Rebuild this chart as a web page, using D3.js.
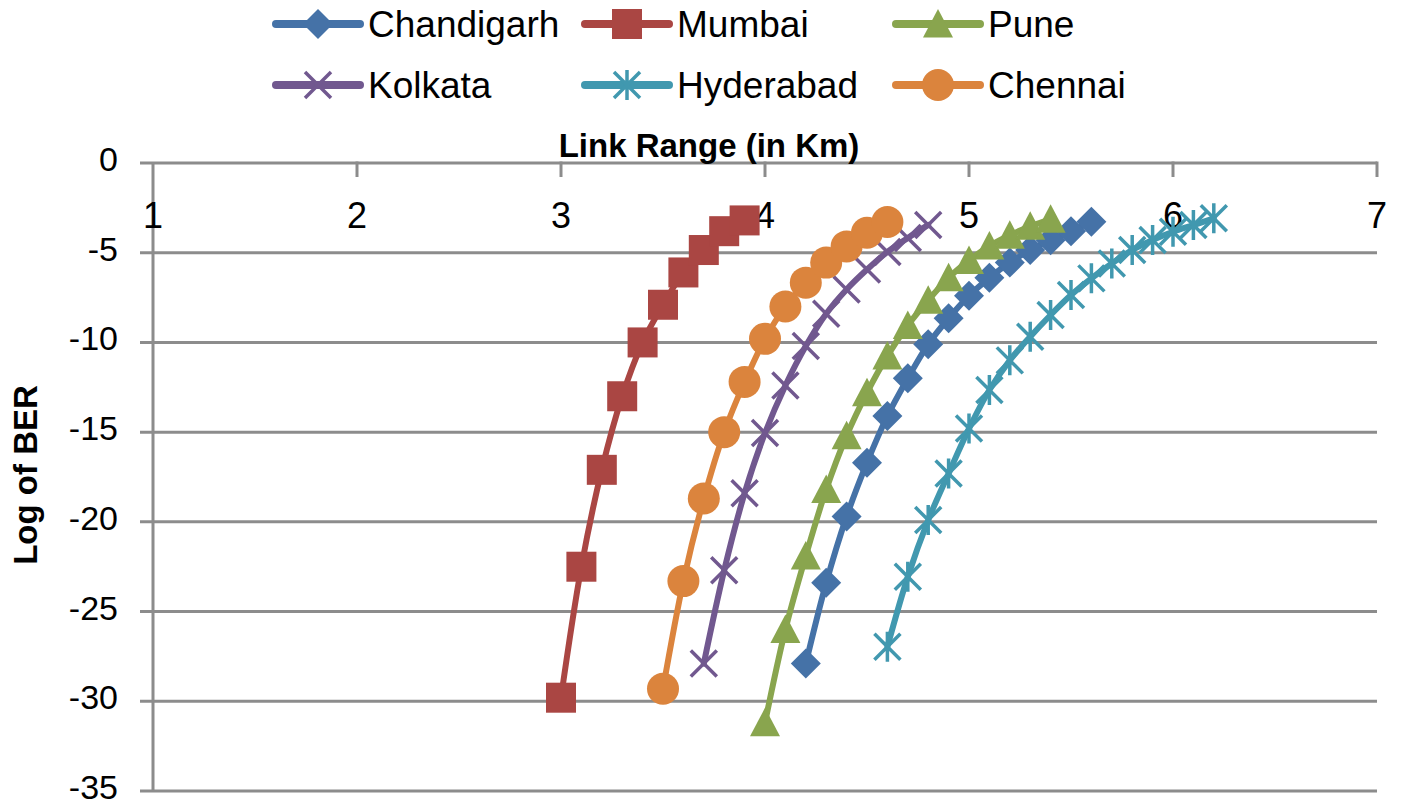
<!DOCTYPE html>
<html><head><meta charset="utf-8">
<script src="https://cdn.jsdelivr.net/npm/d3@7"></script>
<style>html,body{margin:0;padding:0;background:#fff;}svg{display:block;}</style>
</head><body>
<svg id="chart" width="1401" height="807"></svg>
<script>
const seriesNames = ["Chandigarh","Mumbai","Pune","Kolkata","Hyderabad","Chennai"];
const seriesColors = ["#4572A7","#AA4643","#89A54E","#71588F","#4198AF","#DB843D"];
const seriesMarkers = ["diamond","square","triangle","x","asterisk","circle"];

const chandigarhX = [4.2,4.3,4.4,4.5,4.6,4.7,4.8,4.9,5.0,5.1,5.2,5.3,5.4,5.5,5.6];
const chandigarhY = [-27.9,-23.4,-19.7,-16.7,-14.1,-12.0,-10.1,-8.65,-7.4,-6.4,-5.55,-4.85,-4.3,-3.8,-3.27];
const mumbaiX = [3.0,3.1,3.2,3.3,3.4,3.5,3.6,3.7,3.8,3.9];
const mumbaiY = [-29.8,-22.5,-17.1,-13.0,-10.0,-7.9,-6.1,-4.85,-3.8,-3.2];
const puneX = [4.0,4.1,4.2,4.3,4.4,4.5,4.6,4.7,4.8,4.9,5.0,5.1,5.2,5.3,5.4];
const puneY = [-31.2,-26.0,-21.9,-18.2,-15.2,-12.8,-10.75,-9.05,-7.65,-6.4,-5.43,-4.63,-4.03,-3.53,-3.14];
const kolkataX = [3.7,3.8,3.9,4.0,4.1,4.2,4.3,4.4,4.5,4.6,4.7,4.8];
const kolkataY = [-27.9,-22.7,-18.4,-15.05,-12.4,-10.2,-8.4,-7.05,-5.94,-4.96,-4.18,-3.45];
const hyderabadX = [4.6,4.7,4.8,4.9,5.0,5.1,5.2,5.3,5.4,5.5,5.6,5.7,5.8,5.9,6.0,6.1,6.2];
const hyderabadY = [-26.96,-23.06,-19.9,-17.3,-14.8,-12.65,-11.0,-9.68,-8.47,-7.36,-6.43,-5.6,-4.85,-4.29,-3.83,-3.46,-3.08];
const chennaiX = [3.5,3.6,3.7,3.8,3.9,4.0,4.1,4.2,4.3,4.4,4.5,4.6];
const chennaiY = [-29.3,-23.3,-18.7,-15.0,-12.2,-9.8,-8.0,-6.67,-5.55,-4.65,-3.89,-3.29];

const xTicks = [1,2,3,4,5,6,7];
const yTicks = [0,-5,-10,-15,-20,-25,-30,-35];
const xTitle = "Link Range (in Km)";
const yTitle = "Log of BER";

const allX = [chandigarhX,mumbaiX,puneX,kolkataX,hyderabadX,chennaiX];
const allY = [chandigarhY,mumbaiY,puneY,kolkataY,hyderabadY,chennaiY];
const series = seriesNames.map((n,i)=>({name:n,color:seriesColors[i],marker:seriesMarkers[i],
  pts: allX[i].map((x,j)=>({x:x,y:allY[i][j]}))}));

const svg = d3.select("#chart");
const FONT = "'Liberation Sans', Arial, sans-serif";
const GRID = "#8c8c8c";

const x = d3.scaleLinear().domain([1,7]).range([153,1377]);
const y = d3.scaleLinear().domain([0,-35]).range([163,791]);

const g = svg.append("g");
g.selectAll("line.grid").data(yTicks).join("line")
  .attr("x1",140).attr("x2",x(7)).attr("y1",d=>y(d)).attr("y2",d=>y(d))
  .attr("stroke",GRID).attr("stroke-width",3);
g.append("line").attr("x1",x(1)).attr("x2",x(1)).attr("y1",y(0)).attr("y2",y(-35))
  .attr("stroke",GRID).attr("stroke-width",3);
g.selectAll("line.xt").data(xTicks.slice(1)).join("line")
  .attr("x1",d=>x(d)).attr("x2",d=>x(d)).attr("y1",y(0)-1.5).attr("y2",y(0)+14)
  .attr("stroke",GRID).attr("stroke-width",3);

g.selectAll("text.xl").data(xTicks).join("text")
  .attr("x",d=>x(d)).attr("y",228).attr("text-anchor","middle")
  .attr("font-family",FONT).attr("font-size",36).attr("fill","#000").text(d=>d);
g.selectAll("text.yl").data(yTicks).join("text")
  .attr("x",118).attr("y",d=>y(d)+8).attr("text-anchor","end")
  .attr("font-family",FONT).attr("font-size",34).attr("fill","#000").text(d=>d);

svg.append("text").attr("x",709).attr("y",157).attr("text-anchor","middle")
  .attr("font-family",FONT).attr("font-weight","bold").attr("font-size",33).text(xTitle);
svg.append("text").attr("transform","translate(37,475) rotate(-90)").attr("text-anchor","middle")
  .attr("font-family",FONT).attr("font-weight","bold").attr("font-size",33).text(yTitle);

function drawMarker(sel, type, color){
  const s = 15;
  if(type==="diamond"){
    sel.append("path").attr("d",`M0,${-s}L${s},0L0,${s}L${-s},0Z`).attr("fill",color);
  } else if(type==="square"){
    sel.append("rect").attr("x",-s).attr("y",-s).attr("width",2*s).attr("height",2*s).attr("fill",color);
  } else if(type==="triangle"){
    sel.append("path").attr("d",`M0,${-s}L${s},${s*0.9}L${-s},${s*0.9}Z`).attr("fill",color);
  } else if(type==="circle"){
    sel.append("circle").attr("r",s+1).attr("fill",color);
  } else if(type==="x"){
    const h=13;
    sel.append("path").attr("d",`M${-h},${-h}L${h},${h}M${-h},${h}L${h},${-h}`)
      .attr("stroke",color).attr("stroke-width",3.5).attr("fill","none");
  } else if(type==="asterisk"){
    const h=13;
    sel.append("path").attr("d",`M${-h},${-h}L${h},${h}M${-h},${h}L${h},${-h}M0,${-h-2}L0,${h+2}`)
      .attr("stroke",color).attr("stroke-width",3.5).attr("fill","none");
  }
}

const line = d3.line().x(d=>x(d.x)).y(d=>y(d.y)).curve(d3.curveCatmullRom.alpha(0.5));
series.forEach(s=>{
  const sg = svg.append("g");
  sg.append("path").attr("d",line(s.pts)).attr("fill","none").attr("stroke",s.color)
    .attr("stroke-width",6).attr("stroke-linejoin","round").attr("stroke-linecap","round");
  s.pts.forEach(p=>{
    const m = sg.append("g").attr("transform",`translate(${x(p.x)},${y(p.y)})`);
    drawMarker(m, s.marker, s.color);
  });
});

const legX = [276,585,896];
const legY = [24,85];
series.forEach((s,i)=>{
  const lx = legX[i%3], ly = legY[Math.floor(i/3)];
  const lg = svg.append("g").attr("transform",`translate(${lx},${ly})`);
  lg.append("line").attr("x1",0).attr("x2",84).attr("y1",0).attr("y2",0)
    .attr("stroke",s.color).attr("stroke-width",8).attr("stroke-linecap","round");
  const m = lg.append("g").attr("transform","translate(42,0)");
  drawMarker(m, s.marker, s.color);
  lg.append("text").attr("x",92).attr("y",13).attr("font-family",FONT).attr("font-size",37)
    .attr("fill","#000").text(s.name);
});
</script>
</body></html>
